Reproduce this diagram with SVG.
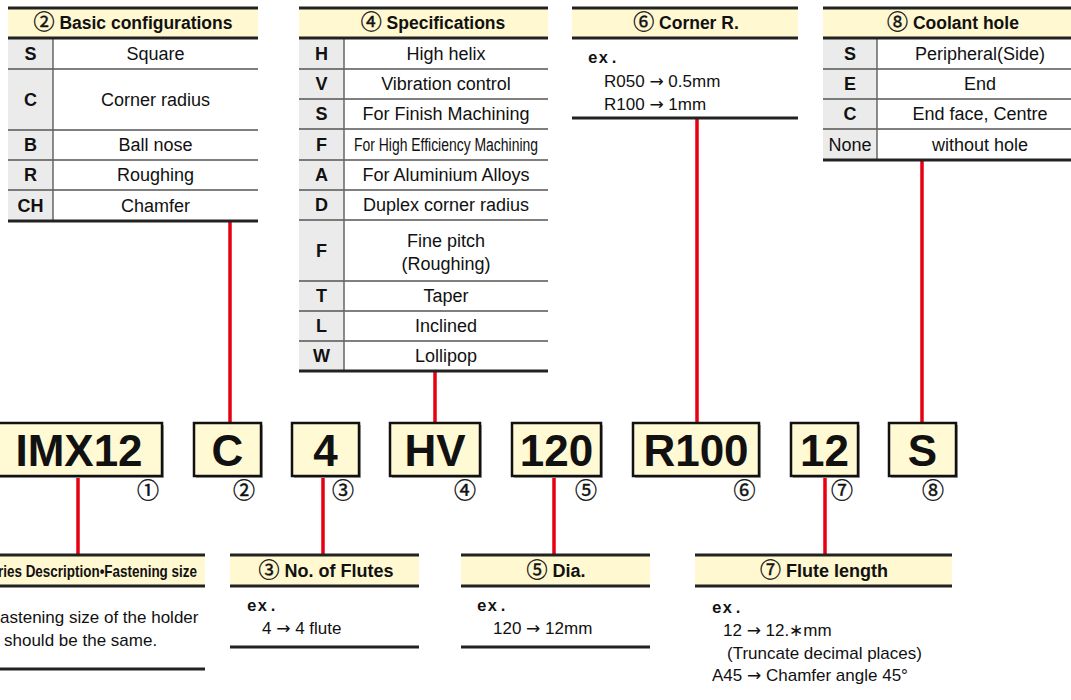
<svg xmlns="http://www.w3.org/2000/svg" width="1071" height="700" viewBox="0 0 1071 700">
<style>
text{font-family:"Liberation Sans",Arial,"Noto Sans CJK JP",sans-serif;fill:#111}
.hd{fill:#fff8d0}
.code{fill:#ebebeb}
.thick{stroke:#222;stroke-width:3}
.thin{stroke:#555;stroke-width:1.3}
.vdiv{stroke:#666;stroke-width:1.5}
.ht{font-size:17.5px;font-weight:bold;text-anchor:middle}
.bt{font-size:18px;font-weight:bold;text-anchor:middle}
.ct{font-size:18px;font-weight:bold;text-anchor:middle}
.vt{font-size:18px;text-anchor:middle}
.ex{font-family:"Liberation Mono","DejaVu Sans Mono",monospace;font-size:16px;font-weight:bold}
.bd{font-size:17px}
.box{fill:#fff9d4;stroke:#111;stroke-width:2.5}
.sh{fill:#aaa}
.big{font-size:44px;font-weight:bold;text-anchor:middle}
.cn{font-family:"Noto Sans CJK JP",sans-serif;font-size:22px;text-anchor:middle;stroke:#111;stroke-width:0.4}
.cc{font-family:"Noto Sans CJK JP",sans-serif;font-weight:normal;font-size:21px;stroke:#111;stroke-width:0.4}
.ar{font-family:"DejaVu Sans",sans-serif}
.red{stroke:#e60012;stroke-width:3.5;fill:none}
</style>

<g id="connectors">
<line class="red" x1="230" y1="222" x2="230" y2="423"/>
<line class="red" x1="435" y1="372" x2="435" y2="423"/>
<line class="red" x1="697" y1="119" x2="697" y2="423"/>
<line class="red" x1="922" y1="161" x2="922" y2="423"/>
<line class="red" x1="78" y1="476" x2="78" y2="554"/>
<line class="red" x1="323" y1="476" x2="323" y2="554"/>
<line class="red" x1="554" y1="476" x2="554" y2="554"/>
<line class="red" x1="825" y1="476" x2="825" y2="554"/>
</g>

<g id="table-basic-configurations">
<rect class="hd" x="8" y="8" width="250" height="30"/>
<rect class="code" x="8" y="38" width="45" height="183"/>
<line class="thin" x1="8" y1="69" x2="258" y2="69"/>
<line class="thin" x1="8" y1="130" x2="258" y2="130"/>
<line class="thin" x1="8" y1="160" x2="258" y2="160"/>
<line class="thin" x1="8" y1="190" x2="258" y2="190"/>
<line class="vdiv" x1="53" y1="38" x2="53" y2="221"/>
<line class="thick" x1="8" y1="8" x2="258" y2="8"/>
<line class="thick" x1="8" y1="38" x2="258" y2="38"/>
<line class="thick" x1="8" y1="221" x2="258" y2="221"/>
<text class="ht" x="133" y="29"><tspan class="cc">②</tspan> Basic configurations</text>
<text class="ct" x="30.5" y="60">S</text><text class="vt" x="155.5" y="60">Square</text>
<text class="ct" x="30.5" y="106">C</text><text class="vt" x="155.5" y="106">Corner radius</text>
<text class="ct" x="30.5" y="151">B</text><text class="vt" x="155.5" y="151">Ball nose</text>
<text class="ct" x="30.5" y="181">R</text><text class="vt" x="155.5" y="181">Roughing</text>
<text class="ct" x="30.5" y="212">CH</text><text class="vt" x="155.5" y="212">Chamfer</text>
</g>

<g id="table-specifications">
<rect class="hd" x="299" y="8" width="249" height="30"/>
<rect class="code" x="299" y="38" width="45" height="333"/>
<line class="thin" x1="299" y1="69" x2="548" y2="69"/>
<line class="thin" x1="299" y1="99" x2="548" y2="99"/>
<line class="thin" x1="299" y1="129" x2="548" y2="129"/>
<line class="thin" x1="299" y1="160" x2="548" y2="160"/>
<line class="thin" x1="299" y1="190" x2="548" y2="190"/>
<line class="thin" x1="299" y1="220" x2="548" y2="220"/>
<line class="thin" x1="299" y1="281" x2="548" y2="281"/>
<line class="thin" x1="299" y1="311" x2="548" y2="311"/>
<line class="thin" x1="299" y1="341" x2="548" y2="341"/>
<line class="vdiv" x1="344" y1="38" x2="344" y2="371"/>
<line class="thick" x1="299" y1="8" x2="548" y2="8"/>
<line class="thick" x1="299" y1="38" x2="548" y2="38"/>
<line class="thick" x1="299" y1="371" x2="548" y2="371"/>
<text class="ht" x="433" y="29"><tspan class="cc">④</tspan> Specifications</text>
<text class="ct" x="321.5" y="60">H</text><text class="vt" x="446" y="60">High helix</text>
<text class="ct" x="321.5" y="90">V</text><text class="vt" x="446" y="90">Vibration control</text>
<text class="ct" x="321.5" y="120">S</text><text class="vt" x="446" y="120">For Finish Machining</text>
<text class="ct" x="321.5" y="151">F</text><text class="vt" x="446" y="151" textLength="184" lengthAdjust="spacingAndGlyphs">For High Efficiency Machining</text>
<text class="ct" x="321.5" y="181">A</text><text class="vt" x="446" y="181">For Aluminium Alloys</text>
<text class="ct" x="321.5" y="211">D</text><text class="vt" x="446" y="211">Duplex corner radius</text>
<text class="ct" x="321.5" y="257">F</text><text class="vt" x="446" y="247">Fine pitch</text><text class="vt" x="446" y="270">(Roughing)</text>
<text class="ct" x="321.5" y="302">T</text><text class="vt" x="446" y="302">Taper</text>
<text class="ct" x="321.5" y="332">L</text><text class="vt" x="446" y="332">Inclined</text>
<text class="ct" x="321.5" y="362">W</text><text class="vt" x="446" y="362">Lollipop</text>
</g>

<g id="table-corner-r">
<rect class="hd" x="572" y="8" width="226" height="30"/>
<line class="thick" x1="572" y1="8" x2="798" y2="8"/>
<line class="thick" x1="572" y1="38" x2="798" y2="38"/>
<line class="thick" x1="572" y1="118" x2="798" y2="118"/>
<text class="ht" x="686" y="29"><tspan class="cc">⑥</tspan> Corner R.</text>
<text class="ex" x="588" y="63" letter-spacing="1">ex.</text>
<text class="bd" x="604" y="87">R050 <tspan class="ar">→</tspan> 0.5mm</text>
<text class="bd" x="604" y="110">R100 <tspan class="ar">→</tspan> 1mm</text>
</g>

<g id="table-coolant-hole">
<rect class="hd" x="823" y="8" width="260" height="30"/>
<rect class="code" x="823" y="38" width="54" height="122"/>
<line class="thin" x1="823" y1="69" x2="1083" y2="69"/>
<line class="thin" x1="823" y1="99" x2="1083" y2="99"/>
<line class="thin" x1="823" y1="129" x2="1083" y2="129"/>
<line class="vdiv" x1="877" y1="38" x2="877" y2="160"/>
<line class="thick" x1="823" y1="8" x2="1083" y2="8"/>
<line class="thick" x1="823" y1="38" x2="1083" y2="38"/>
<line class="thick" x1="823" y1="160" x2="1083" y2="160"/>
<text class="ht" x="953" y="29"><tspan class="cc">⑧</tspan> Coolant hole</text>
<text class="ct" x="850" y="60">S</text><text class="vt" x="980" y="60">Peripheral(Side)</text>
<text class="ct" x="850" y="90">E</text><text class="vt" x="980" y="90">End</text>
<text class="ct" x="850" y="120">C</text><text class="vt" x="980" y="120">End face, Centre</text>
<text class="vt" x="850" y="151" font-size="17">None</text><text class="vt" x="980" y="151">without hole</text>
</g>

<g id="box-1">
<rect class="sh" x="-3" y="425" width="167" height="53"/>
<rect class="box" x="-5" y="423" width="167" height="53"/>
<text class="big" x="79" y="466">IMX12</text>
<text class="cn" x="148" y="498">①</text>
</g>
<g id="box-2">
<rect class="sh" x="196" y="425" width="67" height="53"/>
<rect class="box" x="194" y="423" width="67" height="53"/>
<text class="big" x="227.5" y="466">C</text>
<text class="cn" x="244" y="498">②</text>
</g>
<g id="box-3">
<rect class="sh" x="294" y="425" width="67" height="53"/>
<rect class="box" x="292" y="423" width="67" height="53"/>
<text class="big" x="325.5" y="466">4</text>
<text class="cn" x="343" y="498">③</text>
</g>
<g id="box-4">
<rect class="sh" x="392" y="425" width="90" height="53"/>
<rect class="box" x="390" y="423" width="90" height="53"/>
<text class="big" x="435" y="466">HV</text>
<text class="cn" x="465" y="498">④</text>
</g>
<g id="box-5">
<rect class="sh" x="514" y="425" width="89" height="53"/>
<rect class="box" x="512" y="423" width="89" height="53"/>
<text class="big" x="556.5" y="466">120</text>
<text class="cn" x="586" y="498">⑤</text>
</g>
<g id="box-6">
<rect class="sh" x="635" y="425" width="126" height="53"/>
<rect class="box" x="633" y="423" width="126" height="53"/>
<text class="big" x="696" y="466">R100</text>
<text class="cn" x="744.5" y="498">⑥</text>
</g>
<g id="box-7">
<rect class="sh" x="793" y="425" width="67" height="53"/>
<rect class="box" x="791" y="423" width="67" height="53"/>
<text class="big" x="824.5" y="466">12</text>
<text class="cn" x="842" y="498">⑦</text>
</g>
<g id="box-8">
<rect class="sh" x="891" y="425" width="67" height="53"/>
<rect class="box" x="889" y="423" width="67" height="53"/>
<text class="big" x="922.5" y="466">S</text>
<text class="cn" x="933" y="498">⑧</text>
</g>

<g id="table-series">
<rect class="hd" x="-10" y="555" width="215" height="31"/>
<line class="thick" x1="-10" y1="555" x2="205" y2="555"/>
<line class="thick" x1="-10" y1="586" x2="205" y2="586"/>
<line class="thick" x1="-10" y1="669" x2="205" y2="669"/>
<text x="-2" y="577" font-size="17" font-weight="bold" textLength="199" lengthAdjust="spacingAndGlyphs">ries Description•Fastening size</text>
<text class="bd" x="0" y="623" font-size="16">astening size of the holder</text>
<text class="bd" x="4" y="646" font-size="16">should be the same.</text>
</g>

<g id="table-flutes">
<rect class="hd" x="230" y="555" width="189" height="31"/>
<line class="thick" x1="230" y1="555" x2="419" y2="555"/>
<line class="thick" x1="230" y1="586" x2="419" y2="586"/>
<line class="thick" x1="230" y1="647" x2="419" y2="647"/>
<text class="bt" x="326" y="577"><tspan class="cc">③</tspan> No. of Flutes</text>
<text class="ex" x="247" y="611" letter-spacing="1">ex.</text>
<text class="bd" x="262" y="634">4 <tspan class="ar">→</tspan>  4 flute</text>
</g>

<g id="table-dia">
<rect class="hd" x="461" y="555" width="189" height="31"/>
<line class="thick" x1="461" y1="555" x2="650" y2="555"/>
<line class="thick" x1="461" y1="586" x2="650" y2="586"/>
<line class="thick" x1="461" y1="647" x2="650" y2="647"/>
<text class="bt" x="556" y="577"><tspan class="cc">⑤</tspan> Dia.</text>
<text class="ex" x="477" y="611" letter-spacing="1">ex.</text>
<text class="bd" x="493" y="634">120 <tspan class="ar">→</tspan> 12mm</text>
</g>

<g id="table-flute-length">
<rect class="hd" x="695" y="555" width="257" height="31"/>
<line class="thick" x1="695" y1="555" x2="952" y2="555"/>
<line class="thick" x1="695" y1="586" x2="952" y2="586"/>
<text class="bt" x="824" y="577"><tspan class="cc">⑦</tspan> Flute length</text>
<text class="ex" x="712" y="613" letter-spacing="1">ex.</text>
<text class="bd" x="723" y="636">12 <tspan class="ar">→</tspan> 12.∗mm</text>
<text class="bd" x="727" y="659">(Truncate decimal places)</text>
<text class="bd" x="712" y="681">A45 <tspan class="ar">→</tspan> Chamfer angle 45°</text>
</g>
</svg>
